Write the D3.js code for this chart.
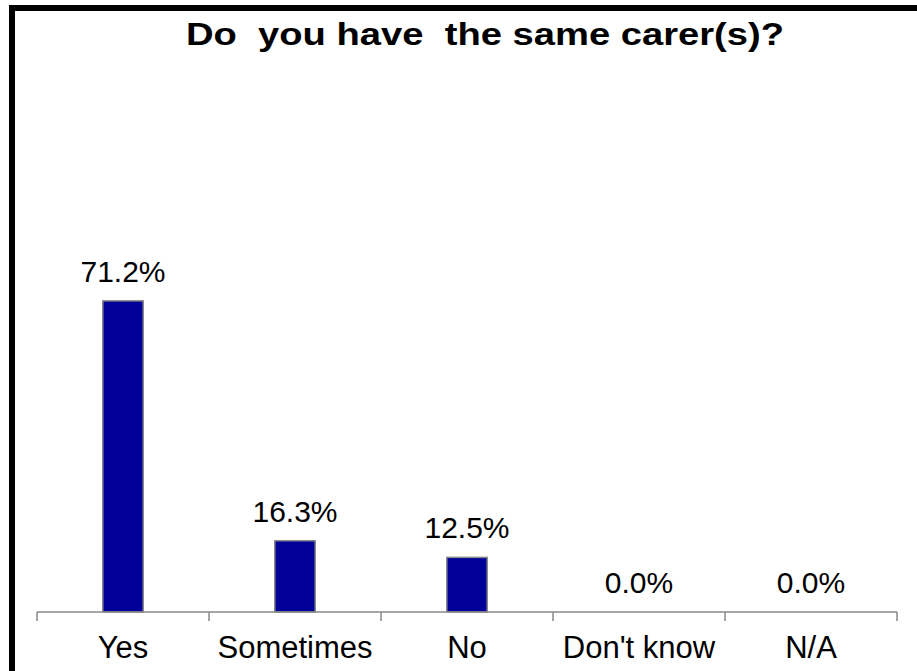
<!DOCTYPE html>
<html>
<head>
    <meta charset="utf-8">
    <title>Do you have the same carer(s)?</title>
    <script type="text/javascript" src="https://cdn.jsdelivr.net/npm/d3@7"></script>
    <style type="text/css">
        body { margin: 0; background: #fff; }
        text { font-family: Arial, "Liberation Sans", sans-serif; fill: #000; }
        .bar { fill: #000099; stroke: #888; stroke-width: 1.5; }
        .axis line { stroke: #888; stroke-width: 1.5; }
    </style>
</head>
<body>
<script type="text/javascript">
    var categories = ["Yes", "Sometimes", "No", "Don't know", "N/A"];
    var values = [71.2, 16.3, 12.5, 0.0, 0.0];
    var title = "Do\u00a0 you have\u00a0 the same carer(s)?";

    var w = 917, h = 671,
        left = 37, right = 897, baseline = 612;

    var svg = d3.select("body").append("svg")
        .attr("width", w)
        .attr("height", h);

    // outer frame, runs off the right and bottom edges
    svg.append("rect")
        .attr("x", 12).attr("y", 8)
        .attr("width", 1000).attr("height", 1000)
        .attr("fill", "none")
        .attr("stroke", "#000")
        .attr("stroke-width", 6);

    svg.append("text")
        .attr("x", 485).attr("y", 45)
        .attr("text-anchor", "middle")
        .attr("font-size", 32)
        .attr("font-weight", "bold")
        .attr("textLength", 598)
        .attr("lengthAdjust", "spacingAndGlyphs")
        .text(title);

    var x = d3.scaleBand()
        .domain(categories)
        .range([left, right]);

    var y = d3.scaleLinear()
        .domain([0, 80])
        .range([baseline, baseline - 349.6]);

    var barW = x.bandwidth() * 0.235;

    svg.selectAll("rect.bar")
        .data(categories.filter(function (c, i) { return values[i] > 0; }))
        .enter().append("rect")
        .attr("class", "bar")
        .attr("x", function (c) { return x(c) + x.bandwidth() / 2 - barW / 2; })
        .attr("y", function (c) { return y(values[categories.indexOf(c)]); })
        .attr("width", barW)
        .attr("height", function (c) { return baseline - y(values[categories.indexOf(c)]); });

    svg.selectAll("text.val")
        .data(values)
        .enter().append("text")
        .attr("class", "val")
        .attr("x", function (d, i) { return x(categories[i]) + x.bandwidth() / 2; })
        .attr("y", function (d) { return y(d) - 19; })
        .attr("text-anchor", "middle")
        .attr("font-size", 30)
        .text(function (d) { return d.toFixed(1) + "%"; });

    // axis: line along baseline with ticks at category boundaries
    var axis = svg.append("g").attr("class", "axis");
    axis.append("line")
        .attr("x1", left).attr("x2", right)
        .attr("y1", baseline).attr("y2", baseline);
    var bounds = categories.map(function (c) { return x(c); }).concat([right]);
    axis.selectAll("line.tick")
        .data(bounds)
        .enter().append("line")
        .attr("class", "tick")
        .attr("x1", function (d) { return d; }).attr("x2", function (d) { return d; })
        .attr("y1", baseline).attr("y2", baseline + 9);

    svg.selectAll("text.cat")
        .data(categories)
        .enter().append("text")
        .attr("class", "cat")
        .attr("x", function (d) { return x(d) + x.bandwidth() / 2; })
        .attr("y", 658)
        .attr("text-anchor", "middle")
        .attr("font-size", 31)
        .text(function (d) { return d; });
</script>
</body>
</html>
